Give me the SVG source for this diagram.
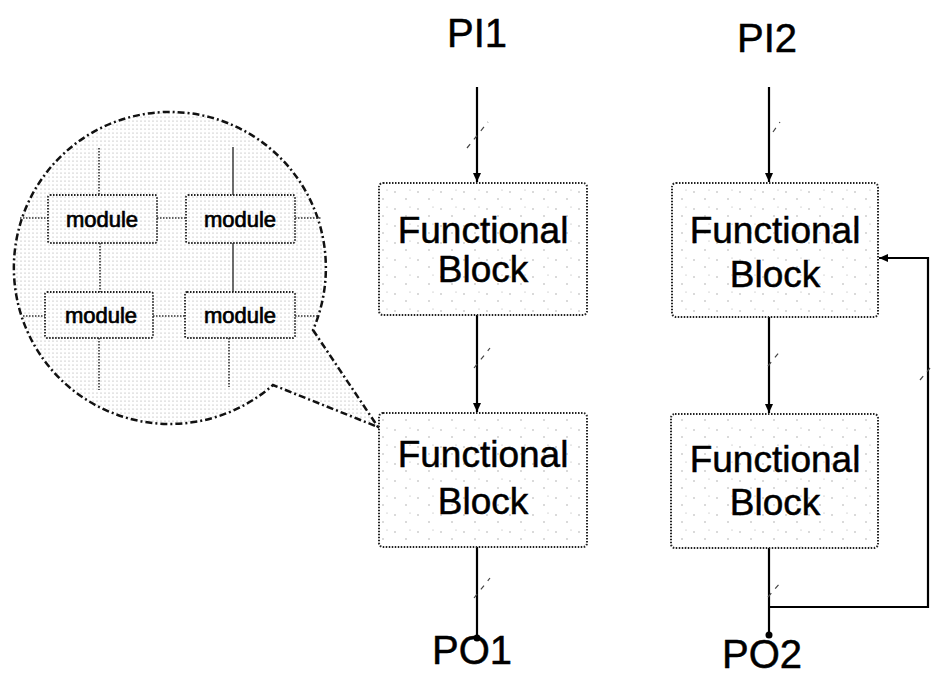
<svg xmlns="http://www.w3.org/2000/svg" width="931" height="677" viewBox="0 0 931 677">
<style>
text{font-family:"Liberation Sans",Arial,sans-serif;fill:#000;stroke:#000;stroke-width:0.5}
.big{font-size:40px}
.fb{font-size:37px;text-anchor:middle}
.mod{font-size:22px;text-anchor:middle;stroke-width:0.7}
.box{fill:url(#sparse);stroke:#222;stroke-width:2;stroke-dasharray:1.5 1.5}
.wire{stroke:#000;stroke-width:2.2;fill:none}
.slash{stroke:#444;stroke-width:1.2;stroke-dasharray:5 6;fill:none}
.mline{stroke:#333;stroke-width:1.6;stroke-dasharray:1.5 1.5;fill:none}
.mbox{fill:none;stroke:#222;stroke-width:1.8;stroke-dasharray:1.5 1.5}
</style>
<defs>
<pattern id="dots" width="4" height="4" patternUnits="userSpaceOnUse">
<rect width="4" height="4" fill="#fff"/>
<circle cx="1" cy="1" r="0.6" fill="#a0a0a0"/>
</pattern>
<pattern id="sparse" width="23" height="17" patternUnits="userSpaceOnUse">
<rect width="23" height="17" fill="#fff"/>
<circle cx="4" cy="5" r="0.7" fill="#999"/>
<circle cx="15" cy="12" r="0.7" fill="#999"/>
<circle cx="19" cy="3" r="0.6" fill="#aaa"/>
</pattern>
<marker id="arr" markerWidth="10" markerHeight="10" refX="9" refY="5" orient="auto" markerUnits="userSpaceOnUse">
<path d="M0,1 L9,5 L0,9 Z" fill="#000"/>
</marker>
</defs>
<rect width="931" height="677" fill="#fff"/>

<g id="balloon">
<path d="M313,330 L378,427 L273,385 A156,156 0 1 1 313,330 Z" fill="url(#dots)" stroke="#111" stroke-width="2.5" stroke-dasharray="7 3 2 3"/>
<g id="module-lines">
<line class="mline" x1="99" y1="148" x2="99" y2="195"/>
<line class="mline" x1="233" y1="147" x2="233" y2="195" style="stroke-dasharray:none;stroke-width:1.4"/>
<line class="mline" x1="100" y1="243" x2="100" y2="292"/>
<line class="mline" x1="233" y1="243" x2="233" y2="292" style="stroke-dasharray:none;stroke-width:1.4"/>
<line class="mline" x1="99" y1="338" x2="99" y2="390"/>
<line class="mline" x1="229" y1="338" x2="229" y2="387"/>
<line class="mline" x1="20" y1="218" x2="48" y2="218"/>
<line class="mline" x1="157" y1="218" x2="186" y2="218"/>
<line class="mline" x1="295" y1="218" x2="322" y2="218"/>
<line class="mline" x1="23" y1="316" x2="45" y2="316"/>
<line class="mline" x1="153" y1="316" x2="185" y2="316"/>
<line class="mline" x1="295" y1="316" x2="318" y2="316"/>
</g>
<g id="module-tl"><rect class="mbox" x="48" y="195" width="109" height="48" rx="2"/><text class="mod" x="102" y="227">module</text></g>
<g id="module-tr"><rect class="mbox" x="186" y="195" width="109" height="48" rx="2"/><text class="mod" x="240" y="227">module</text></g>
<g id="module-bl"><rect class="mbox" x="45" y="292" width="108" height="46" rx="2"/><text class="mod" x="101" y="323">module</text></g>
<g id="module-br"><rect class="mbox" x="185" y="292" width="110" height="46" rx="2"/><text class="mod" x="240" y="323">module</text></g>
</g>

<g id="connectors">
<line class="wire" x1="477" y1="87" x2="477" y2="182" marker-end="url(#arr)"/>
<line class="wire" x1="477" y1="315" x2="477" y2="412" marker-end="url(#arr)"/>
<line class="wire" x1="477" y1="547" x2="477" y2="638"/>
<line class="wire" x1="769" y1="87" x2="769" y2="182" marker-end="url(#arr)"/>
<line class="wire" x1="769" y1="317" x2="769" y2="413" marker-end="url(#arr)"/>
<line class="wire" x1="769" y1="548" x2="769" y2="635"/>
<polyline class="wire" points="769,607 928,607 928,258 879,258" marker-end="url(#arr)"/>
<circle cx="477" cy="638" r="3.5" fill="#000"/>
<circle cx="769" cy="635" r="3.5" fill="#000"/>
<line class="slash" x1="467" y1="148" x2="488" y2="122"/>
<line class="slash" x1="474" y1="368" x2="490" y2="348"/>
<line class="slash" x1="474" y1="598" x2="490" y2="578"/>
<line class="slash" x1="773" y1="132" x2="780" y2="122"/>
<line class="slash" x1="768" y1="366" x2="781" y2="350"/>
<line class="slash" x1="768" y1="597" x2="781" y2="582"/>
<line class="slash" x1="920" y1="380" x2="930" y2="368"/>
</g>

<g id="pi1"><text class="big" x="477" y="47" text-anchor="middle">PI1</text></g>
<g id="pi2"><text class="big" x="767" y="52" text-anchor="middle">PI2</text></g>
<g id="po1"><text class="big" x="472" y="664" text-anchor="middle">PO1</text></g>
<g id="po2"><text class="big" x="762" y="668" text-anchor="middle">PO2</text></g>

<g id="fb1"><rect class="box" x="379" y="183" width="208" height="132" rx="4"/><text class="fb" x="483" y="243">Functional</text><text class="fb" x="483" y="282">Block</text></g>
<g id="fb2"><rect class="box" x="379" y="413" width="208" height="134" rx="4"/><text class="fb" x="483" y="467">Functional</text><text class="fb" x="483" y="514">Block</text></g>
<g id="fb3"><rect class="box" x="672" y="183" width="206" height="134" rx="4"/><text class="fb" x="775" y="243">Functional</text><text class="fb" x="775" y="287">Block</text></g>
<g id="fb4"><rect class="box" x="671" y="414" width="207" height="134" rx="4"/><text class="fb" x="775" y="472">Functional</text><text class="fb" x="775" y="515">Block</text></g>
</svg>
